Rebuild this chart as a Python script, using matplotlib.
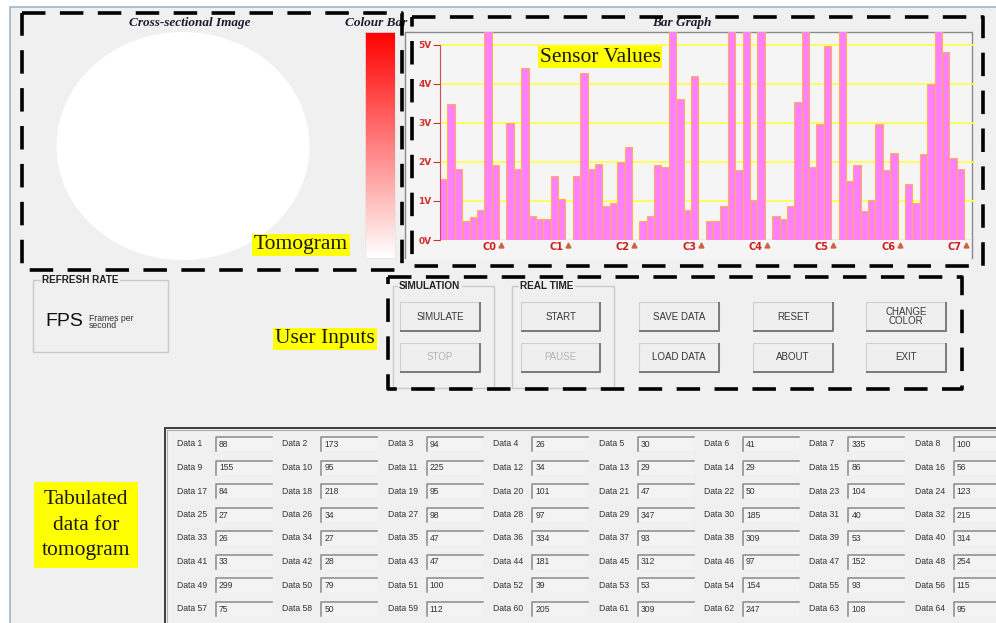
"""Tomography GUI screenshot."""
import matplotlib.pyplot as plt
import numpy as np
from matplotlib.patches import Rectangle, Ellipse
from matplotlib.colors import LinearSegmentedColormap

# sensor voltages, 8 channels per group (clipped bars > 5.33 V)
groups = ['C0', 'C1', 'C2', 'C3', 'C4', 'C5', 'C6', 'C7']
sensor_volts = [
    [1.55, 3.49, 1.82, 0.49, 0.58, 0.77, 6.0, 1.93],
    [3.00, 1.82, 4.40, 0.61, 0.55, 0.55, 1.65, 1.06],
    [1.64, 4.28, 1.82, 1.95, 0.87, 0.94, 2.00, 2.39],
    [0.49, 0.62, 1.91, 1.88, 6.0, 3.60, 0.77, 4.20],
    [0.49, 0.49, 0.87, 6.0, 1.80, 6.0, 1.02, 6.0],
    [0.61, 0.53, 0.87, 3.53, 6.0, 1.87, 2.96, 4.96],
    [6.0, 1.52, 1.92, 0.75, 1.02, 2.98, 1.80, 2.23],
    [1.43, 0.95, 2.19, 3.99, 6.0, 4.80, 2.10, 1.82],
]
volt_ticks = [0, 1, 2, 3, 4, 5]

# tabulated data (Data 1 .. Data 64)
table_values = [
    88, 173, 94, 26, 30, 41, 335, 100,
    155, 95, 225, 34, 29, 29, 86, 56,
    84, 218, 95, 101, 47, 50, 104, 123,
    27, 34, 98, 97, 347, 185, 40, 215,
    26, 27, 47, 334, 93, 309, 53, 314,
    33, 28, 47, 181, 312, 97, 152, 254,
    299, 79, 100, 39, 53, 154, 93, 115,
    75, 50, 112, 205, 309, 247, 108, 95,
]

left_buttons = [('SIMULATE', True), ('STOP', False)]
rt_buttons = [('START', True), ('PAUSE', False)]
other_buttons = [[('SAVE DATA', True), ('LOAD DATA', True)],
                 [('RESET', True), ('ABOUT', True)],
                 [('CHANGE\nCOLOR', True), ('EXIT', True)]]

BG = '#f0f0f0'
W, H = 996, 623
fig = plt.figure(figsize=(W / 100, H / 100), dpi=100)
fig.patch.set_facecolor('white')
ax = fig.add_axes([0, 0, 1, 1])
ax.axis('off')

sans = ['Liberation Sans', 'DejaVu Sans']
serif = ['Liberation Serif', 'DejaVu Serif']

# window
ax.add_patch(Rectangle((10, 7), W, H, facecolor=BG, edgecolor='#9fb5cc', lw=1.2))


def button(x0, y0, x1, y1, label, enabled=True):
    ax.add_patch(Rectangle((x0, y0), x1 - x0, y1 - y0, facecolor='#efefef',
                           edgecolor='#cfcfcf', lw=0.8))
    ax.plot([x0 + 1, x1, x1], [y1, y1, y0 + 1], color='#7a7a7a', lw=1.4)
    ax.text((x0 + x1) / 2, (y0 + y1) / 2, label, ha='center', va='center',
            fontsize=7, family=sans, linespacing=0.9,
            color='#383838' if enabled else '#b4b4b4')


def groupbox(x0, y0, x1, y1, title, tx):
    ax.add_patch(Rectangle((x0, y0), x1 - x0, y1 - y0, facecolor='none',
                           edgecolor='#cacaca', lw=1.0))
    ax.text(tx, y0, title, ha='left', va='center', fontsize=7.2,
            fontweight='bold', family=sans, color='#222222',
            bbox=dict(facecolor=BG, edgecolor='none', pad=1.0))


def label(x, y, s, ls=1.2, pad=0.08):
    ax.text(x, y, s, ha='center', va='center', fontsize=15.5, family=serif,
            color='#1a1a1a', linespacing=ls,
            bbox=dict(boxstyle='square,pad=%g' % pad, facecolor='#ffff00',
                      edgecolor='none'))


# tomogram panel
ax.text(190, 23, 'Cross-sectional Image', ha='center', va='center',
        fontsize=9.5, fontweight='bold', fontstyle='italic', family=serif,
        color='#1c1c30')
ax.text(376, 23, 'Colour Bar', ha='center', va='center', fontsize=9.5,
        fontweight='bold', fontstyle='italic', family=serif, color='#1c1c30')
ax.add_patch(Ellipse((183, 146), 253, 228, facecolor='white', edgecolor='none'))
grad = np.linspace(1, 0, 256)[:, None]
cmap = LinearSegmentedColormap.from_list('rw', ['#ffffff', '#ff0000'])
ax.imshow(grad, cmap=cmap, extent=(365, 395, 258, 32), aspect='auto',
          interpolation='bilinear', zorder=2)
ax.add_patch(Rectangle((365, 32), 30, 226, facecolor='none',
                       edgecolor='#e6e6e6', lw=0.6, zorder=3))

# bar panel frame
ax.add_patch(Rectangle((405, 31.7), 567, 227, facecolor='#f5f5f5',
                       edgecolor='none'))
ax.plot([405, 405, 972, 972], [258, 31.7, 31.7, 258], color='#8a8a8a', lw=1.0)
ax.text(682, 23, 'Bar Graph', ha='center', va='center', fontsize=9.5,
        fontweight='bold', fontstyle='italic', family=serif, color='#1c1c30')

# refresh rate
groupbox(33, 280, 168, 352, 'REFRESH RATE', 42)
ax.text(45, 322, 'FPS', ha='left', va='center', fontsize=14, family=sans,
        color='#111111')
ax.text(89, 322, 'Frames per\nsecond', ha='left', va='center', fontsize=6.2,
        family=sans, color='#333333', linespacing=0.85)

# buttons
groupbox(393, 286, 494, 388, 'SIMULATION', 399)
groupbox(512, 286, 614, 388, 'REAL TIME', 520)
for j, (txt, en) in enumerate(left_buttons):
    button(400, 302 + 41 * j, 480, 331 + 41 * j, txt, en)
for j, (txt, en) in enumerate(rt_buttons):
    button(521, 302 + 41 * j, 600, 331 + 41 * j, txt, en)
for i, col in enumerate(other_buttons):
    x0 = [639, 753, 866][i]
    for j, (txt, en) in enumerate(col):
        button(x0, 302 + 41 * j, x0 + 80, 331 + 41 * j, txt, en)

# data table
ax.add_patch(Rectangle((165, 428), 840, 210, facecolor=BG, edgecolor='#303030',
                       lw=1.3))
ax.plot([167, 167, 1000], [640, 430, 430], color='#b0b0b0', lw=0.8)
for k, v in enumerate(table_values):
    r, c = divmod(k, 8)
    x = 177 + 105.4 * c
    y = 444 + 23.5 * r
    ax.text(x, y, 'Data %d' % (k + 1), ha='left', va='center', fontsize=6.2,
            family=sans, color='#333333')
    bx = x + 39
    ax.add_patch(Rectangle((bx, y - 7), 56, 14, facecolor='#f3f3f3',
                           edgecolor='none'))
    ax.plot([bx, bx, bx + 56], [y + 7, y - 7, y - 7], color='#8a8a8a',
            lw=1.1)
    ax.text(bx + 3, y + 0.5, str(v), ha='left', va='center', fontsize=6.2,
            family=sans, color='#333333')

# annotation labels
label(301, 245, 'Tomogram')
label(600, 57, 'Sensor Values')
label(325, 339, 'User Inputs')
label(86, 525, 'Tabulated\ndata for\ntomogram', ls=1.5, pad=0.35)

# dashed regions
dash = dict(color='black', lw=2.6, linestyle=(0, (6.5, 4)), zorder=6)
for x0, y0, x1, y1 in [(22, 13, 402, 270), (412, 17, 983, 266),
                       (388, 277, 962, 389)]:
    ax.plot([x0, x1, x1, x0, x0], [y0, y0, y1, y1, y0], **dash)

ax.set_xlim(0, W)
ax.set_ylim(H, 0)

# bar graph
slot = 7.381
xl, xr, yb, yt = 440, 975, 240, 31.7
bx = fig.add_axes([xl / W, 1 - yb / H, (xr - xl) / W, (yb - yt) / H])
bx.set_facecolor('none')
bx.set_xlim(0, (xr - xl) / slot)
bx.set_ylim(0, 5.33)
for s in ['top', 'right', 'bottom']:
    bx.spines[s].set_visible(False)
bx.spines['left'].set_color('#d05050')
bx.spines['left'].set_bounds(0, 5)
bx.set_yticks(volt_ticks)
bx.set_yticklabels(['%dV' % v for v in volt_ticks])
bx.tick_params(axis='y', colors='#d03030', length=5, labelsize=6.5, pad=1)
for t in bx.get_yticklabels():
    t.set_fontweight('bold')
bx.set_xticks([])
for v in volt_ticks[1:]:
    bx.axhline(v, color='#ffff55', lw=1.3, zorder=0)
bx.axhline(0, color='#f0b050', lw=1.0, zorder=0)
for g, vals in enumerate(sensor_volts):
    xs = [g * 9 + i for i in range(len(vals))]
    bx.bar(xs, vals, width=1.0, align='edge', color='#ff80ff',
           edgecolor='#ffb050', lw=0.8, zorder=2)
    tick = g * 9 + 8.3
    bx.text(tick - 0.6, -0.17, groups[g], ha='right', va='center',
            fontsize=7, fontweight='bold', color='#cc2020', clip_on=False)
    bx.plot([tick], [-0.12], marker='^', ms=3.5, color='#d06040',
            clip_on=False, zorder=3)

fig.savefig('out.png', dpi=100, facecolor=fig.get_facecolor())
